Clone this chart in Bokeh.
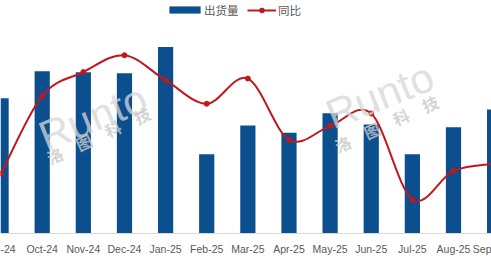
from bokeh.plotting import figure
from bokeh.models import Range1d, FixedTicker, Legend, LegendItem, Label
from bokeh.layouts import column
from bokeh.embed import file_html
from bokeh.resources import INLINE
import numpy as np

months = ["Sep-24", "Oct-24", "Nov-24", "Dec-24", "Jan-25", "Feb-25", "Mar-25",
          "Apr-25", "May-25", "Jun-25", "Jul-25", "Aug-25", "Sep-25"]
# tick labels as visible in the (cropped) reference
tick_labels = ["-24", "Oct-24", "Nov-24", "Dec-24", "Jan-25", "Feb-25", "Mar-25",
               "Apr-25", "May-25", "Jun-25", "Jul-25", "Aug-25", "Sep"]
shipments = [145, 174, 173, 172, 200, 85, 116, 108, 129, 117, 85, 114, 133]
yoy = [-24.3, 9.1, 19.3, 26.5, 15.8, 5.7, 16.5, -9.8, -3.9, 1.5, -35.4, -23.1, -20.0]

BLUE = "#0b4f8f"
RED = "#c0181c"
GREY = "#595959"

X0, X1 = -0.014, 11.924
p = figure(width=491, height=257, x_range=Range1d(X0, X1), y_range=Range1d(0, 250),
           output_backend="svg", toolbar_location=None,
           min_border_left=0, min_border_right=0, min_border_top=0, min_border_bottom=20)
p.extra_y_ranges = {"yoy": Range1d(-50, 50)}
p.outline_line_color = None
p.xgrid.visible = False
p.ygrid.visible = False
p.yaxis.visible = False

xs = np.arange(len(months), dtype=float)
bars = p.vbar(x=xs, top=shipments, width=0.37, fill_color=BLUE, line_color=None)

# smooth (Catmull-Rom style) bezier segments through the yoy points
ys = np.array(yoy, dtype=float)
n = len(xs)
x0s, y0s, x1s, y1s, cx0, cy0, cx1, cy1 = [], [], [], [], [], [], [], []
for i in range(n - 1):
    a = max(i - 1, 0)
    b = min(i + 2, n - 1)
    x0s.append(xs[i]); y0s.append(ys[i])
    x1s.append(xs[i + 1]); y1s.append(ys[i + 1])
    cx0.append(xs[i] + (xs[i + 1] - xs[a]) / 6); cy0.append(ys[i] + (ys[i + 1] - ys[a]) / 6)
    cx1.append(xs[i + 1] - (xs[b] - xs[i]) / 6); cy1.append(ys[i + 1] - (ys[b] - ys[i]) / 6)
curve = p.bezier(x0=x0s, y0=y0s, x1=x1s, y1=y1s, cx0=cx0, cy0=cy0, cx1=cx1, cy1=cy1,
                 line_color=RED, line_width=2, y_range_name="yoy")
dots = p.scatter(xs, ys, size=5, fill_color=RED, line_color=RED, y_range_name="yoy")

# the last category sits just outside the visible frame; show its cropped label at the edge
tick_pos = [float(v) if v <= X1 else X1 - 0.01 for v in xs]
ax = p.xaxis[0]
ax.ticker = FixedTicker(ticks=tick_pos)
ax.major_label_overrides = {t: lab for t, lab in zip(tick_pos, tick_labels)}
ax.major_label_text_font = "Liberation Sans"
ax.major_label_text_font_size = "10.5px"
ax.major_label_text_color = GREY
ax.major_label_standoff = 3
ax.axis_line_color = "#d9d9d9"
ax.major_tick_line_color = None
ax.minor_tick_line_color = None

leg_common = dict(orientation="horizontal", padding=0, margin=0, border_line_color=None,
                  background_fill_alpha=0, label_text_font="Noto Sans CJK SC",
                  label_text_font_size="11.5px", label_text_color=GREY, label_height=16)
leg1 = Legend(items=[LegendItem(label="出货量", renderers=[bars])], location=(165, 215.5),
              glyph_width=39, glyph_height=9, label_standoff=0, **leg_common)
leg2 = Legend(items=[LegendItem(label="同比", renderers=[curve, dots])], location=(247, 215.5),
              glyph_width=29, glyph_height=12, label_standoff=2, **leg_common)
p.add_layout(leg1)
p.add_layout(leg2)

# watermark
def sx(px):
    return X0 + px / 41.13

def sy(py):
    return (237 - py) / 0.948

for (rx, ry), (cx, cy) in [((49, 162), (52, 172)), ((336, 140), (340, 160))]:
    p.add_layout(Label(x=sx(rx), y=sy(ry), text="Runto", angle=0.38, text_font="Liberation Sans",
                       text_font_size="42px", text_color="#d6d6d6", text_alpha=0.75))
    p.add_layout(Label(x=sx(cx), y=sy(cy), text="洛　图　科　技", angle=0.43,
                       text_font="Noto Sans CJK SC", text_font_size="16px", text_font_style="bold",
                       text_color="#c8c8c8", text_alpha=0.8))

strip = figure(width=491, height=2, output_backend="svg", toolbar_location=None,
               min_border=0, background_fill_color="black", border_fill_color="black",
               outline_line_color=None)
strip.axis.visible = False
strip.grid.visible = False

layout = column(p, strip, spacing=0)
open("out.html", "w").write(file_html(layout, INLINE))
